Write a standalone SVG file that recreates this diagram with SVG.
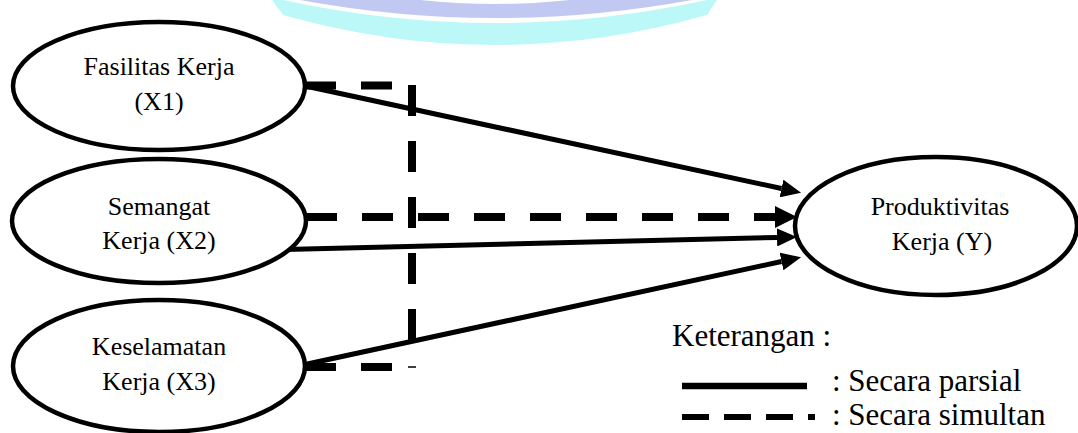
<svg xmlns="http://www.w3.org/2000/svg" width="1078" height="433" viewBox="0 0 1078 433">
  <style>
    .node ellipse { fill: #fff; stroke: #000; stroke-width: 4.5; }
    .lbl { font-family: "Liberation Serif", "Times New Roman", serif; font-size: 26px; fill: #000; text-anchor: middle; }
    .legend { font-family: "Liberation Serif", "Times New Roman", serif; font-size: 31px; fill: #000; }
    .solid { stroke: #000; stroke-width: 5; fill: none; }
    .dash { stroke: #000; stroke-width: 8; fill: none; stroke-dasharray: 31 25; }
  </style>
  <defs>
    <marker id="head" markerUnits="userSpaceOnUse" viewBox="0 0 20 18" markerWidth="20" markerHeight="18" refX="0" refY="9" orient="auto">
      <path d="M0,0 L20,9 L0,18 Z" fill="#000"/>
    </marker>
    <marker id="headLarge" markerUnits="userSpaceOnUse" viewBox="0 0 22 22" markerWidth="22" markerHeight="22" refX="0" refY="11" orient="auto">
      <path d="M0,0 L22,11 L0,22 Z" fill="#000"/>
    </marker>
  </defs>

  <!-- faint background emblem band -->
  <g id="emblem">
    <path d="M272,0 L283,15 Q495,75 707,15 L717,0 Z" fill="#bdf8f9"/>
    <path d="M283,0 Q495,46 707,0 Z" fill="#ffffff"/>
    <path d="M300,0 Q495,36 692,0 Z" fill="#c1c8f1"/>
    <path d="M420,0 Q495,8 570,0 Z" fill="#ffffff"/>
  </g>

  <!-- connectors -->
  <g id="connectors">
    <line class="solid" x1="297.2" y1="84.3" x2="781.5" y2="188.5" marker-end="url(#head)"/>
    <line class="solid" x1="285" y1="249.6" x2="777" y2="237.5" marker-end="url(#head)"/>
    <line class="solid" x1="299.2" y1="365.7" x2="781.5" y2="261.5" marker-end="url(#head)"/>
    <line class="dash" x1="306" y1="217" x2="775" y2="217" marker-end="url(#headLarge)"/>
    <!-- simultaneous bracket -->
    <path class="dash" d="M305,85.5 H410"/>
    <path class="dash" d="M412,85 V345"/>
    <path class="dash" d="M305,367 H400"/>
    <line x1="408" y1="367" x2="416" y2="367" stroke="#000" stroke-width="1.5"/>
  </g>

  <!-- nodes -->
  <g id="node-x1" class="node">
    <ellipse cx="159" cy="86" rx="146" ry="64"/>
    <text class="lbl" x="159" y="75">Fasilitas Kerja</text>
    <text class="lbl" x="159" y="110">(X1)</text>
  </g>
  <g id="node-x2" class="node">
    <ellipse cx="159" cy="221" rx="147" ry="62"/>
    <text class="lbl" x="159" y="215">Semangat</text>
    <text class="lbl" x="159" y="249">Kerja (X2)</text>
  </g>
  <g id="node-x3" class="node">
    <ellipse cx="159" cy="366" rx="146" ry="66"/>
    <text class="lbl" x="159" y="355">Keselamatan</text>
    <text class="lbl" x="159" y="390">Kerja (X3)</text>
  </g>
  <g id="node-y" class="node">
    <ellipse cx="936" cy="226" rx="141" ry="69"/>
    <text class="lbl" x="940" y="215">Produktivitas</text>
    <text class="lbl" x="942" y="250">Kerja (Y)</text>
  </g>

  <!-- legend -->
  <g id="legend">
    <text class="legend" x="672" y="346">Keterangan :</text>
    <line x1="682" y1="386" x2="807" y2="386" stroke="#000" stroke-width="6.5"/>
    <text class="legend" x="832" y="391">: Secara parsial</text>
    <line x1="682" y1="417" x2="815" y2="417" stroke="#000" stroke-width="6" stroke-dasharray="27 15"/>
    <text class="legend" x="832" y="425">: Secara simultan</text>
  </g>
</svg>
